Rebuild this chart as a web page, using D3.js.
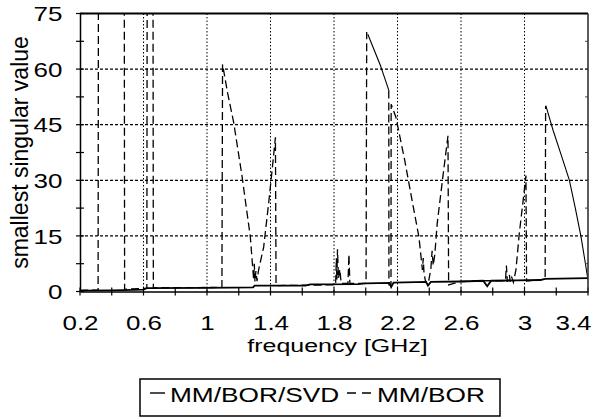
<!DOCTYPE html>
<html>
<head>
<meta charset="utf-8">
<script src="https://cdn.jsdelivr.net/npm/d3@7"></script>
<style>body{margin:0;background:#fff}</style>
</head>
<body>
<svg id="chart" width="601" height="419"></svg>
<script>
//// data
var xTicks = [0.2, 0.6, 1, 1.4, 1.8, 2.2, 2.6, 3, 3.4];
var yTicks = [0, 15, 30, 45, 60, 75];
var seriesNames = ["MM/BOR/SVD", "MM/BOR"];

// MM/BOR/SVD, lower curve
var mmBorSvd = [
  [0.2,0.2],[0.4,0.3],[0.6,0.5],[0.62,0.9],[1.0,1.0],[1.29,1.1],[1.3,1.6],[1.62,1.6],
  [1.65,1.9],[1.95,2.0],[2.0,2.2],[2.15,2.3],[2.16,1.2],[2.175,2.4],[2.38,2.6],[2.392,1.6],
  [2.41,2.6],[2.6,2.7],[2.74,2.9],[2.765,1.4],[2.79,2.9],[2.95,3.0],[3.1,3.1],[3.13,3.4],[3.4,3.6]
];
// MM/BOR/SVD, upper branches (null = break in line)
var mmBorSvdUpper = [
  [2.013,69.4],[2.05,65.5],[2.093,60.9],[2.12,57.5],[2.146,54.2],
  null,
  [3.135,50.1],[3.18,43.5],[3.23,37],[3.283,30],[3.32,22.5],[3.355,15],[3.38,8.5],[3.4,3.1]
];

// MM/BOR (values above 75 run off the top)
var mmBor = [
  [0.2,0.3],[0.314,0.4],[0.317,120],[0.478,120],[0.481,0.6],
  [0.621,0.9],[0.624,120],[0.659,120],[0.662,1.0],
  [1.094,1.1],[1.098,61.3],[1.13,53.5],[1.168,45.6],[1.22,31.3],[1.273,14.7],[1.294,3.1],
  [1.298,7.5],[1.302,2.6],[1.308,5.5],[1.315,2.8],[1.325,5.8],[1.357,12],[1.388,23.7],
  [1.41,32.7],[1.431,41.6],[1.435,1.6],
  [1.81,1.8],[1.815,9],[1.818,3],[1.822,11.4],[1.828,3.5],[1.837,6],[1.845,2.2],[1.888,2.2],[1.894,10],[1.9,2.2],
  [2.002,2.2],[2.006,70],
  null,
  [2.145,54.2],[2.146,1.8],[2.159,1.8],[2.16,50.5],
  [2.19,47],[2.245,35.5],[2.29,25],[2.335,14.7],[2.357,5.8],[2.362,9],[2.367,5],[2.375,3],
  [2.385,2.0],[2.395,2.5],[2.41,6],[2.418,11],[2.425,7],[2.435,10],[2.45,18.3],[2.483,30],
  [2.518,42],[2.522,1.8],
  [2.6,2.7],[2.74,2.9],
  [2.88,2.9],[2.886,7],[2.892,2.6],[2.905,4.5],[2.91,2.6],[2.92,3.8],[2.93,2.5],[2.946,5.8],
  [2.967,15.6],[2.99,24],[3.009,31.3],[3.013,2.8],
  [3.13,3.3],[3.133,50.1]
];

//// layout
var svg = d3.select("svg#chart");
var font = "'Liberation Sans', Arial, sans-serif";
var plotL = 80, plotR = 588, plotT = 13.5, plotB = 291.5;

var x = d3.scaleLinear().domain([0.2, 3.4]).range([plotL, plotR]);
var y = d3.scaleLinear().domain([0, 75]).range([plotB, plotT]);

// stretched text, like the scanned original
function label(g, str, px, py, size, sx, anchor) {
  return g.append("text")
    .attr("transform", "translate(" + px + "," + py + ") scale(" + sx + ",1)")
    .attr("text-anchor", anchor || "start")
    .attr("font-family", font)
    .attr("font-size", size)
    .attr("fill", "#000")
    .text(str);
}

// grid
svg.append("g").selectAll("line")
  .data(xTicks.slice(1, -1))
  .enter().append("line")
  .attr("x1", function(d) { return x(d); })
  .attr("x2", function(d) { return x(d); })
  .attr("y1", y(0)).attr("y2", y(75))
  .attr("stroke", "#000").attr("stroke-width", 1)
  .attr("stroke-dasharray", "1.5,2");

svg.append("g").selectAll("line")
  .data(yTicks.slice(1, -1))
  .enter().append("line")
  .attr("x1", plotL).attr("x2", plotR)
  .attr("y1", function(d) { return y(d); })
  .attr("y2", function(d) { return y(d); })
  .attr("stroke", "#000").attr("stroke-width", 1.2)
  .attr("stroke-dasharray", "3,2");

// series
svg.append("clipPath").attr("id", "plot")
  .append("rect").attr("x", plotL).attr("y", plotT)
  .attr("width", plotR - plotL).attr("height", plotB - plotT);

var line = d3.line()
  .defined(function(d) { return d != null; })
  .x(function(d) { return x(d[0]); })
  .y(function(d) { return y(d[1]); });

svg.append("path")
  .datum(mmBor)
  .attr("clip-path", "url(#plot)")
  .attr("d", line)
  .attr("fill", "none")
  .attr("stroke", "#000")
  .attr("stroke-width", 1.3)
  .attr("stroke-dasharray", "8,4");

svg.append("path")
  .datum(mmBorSvd)
  .attr("clip-path", "url(#plot)")
  .attr("d", line)
  .attr("fill", "none")
  .attr("stroke", "#000")
  .attr("stroke-width", 1.8);

svg.append("path")
  .datum(mmBorSvdUpper)
  .attr("clip-path", "url(#plot)")
  .attr("d", line)
  .attr("fill", "none")
  .attr("stroke", "#000")
  .attr("stroke-width", 1.1);

// axes
var xAxis = d3.axisBottom(x).tickValues(xTicks).tickSize(0).tickFormat(d3.format("~g"));
var gx = svg.append("g").attr("transform", "translate(0," + y(0) + ")").call(xAxis);
gx.select(".domain").attr("stroke-width", 1.5);
gx.selectAll("text")
  .attr("font-family", font).attr("font-size", 20).attr("fill", "#000")
  .attr("y", 38.5).attr("dy", null)
  .attr("transform", "scale(1.3,1)");
// last label pulled in so it stays inside the page
gx.selectAll("text")
  .filter(function(d, i, n) { return i === n.length - 1; })
  .attr("text-anchor", "end")
  .attr("x", 3 / 1.3);

var yAxis = d3.axisLeft(y).tickValues(yTicks).tickSize(0);
var gy = svg.append("g").attr("transform", "translate(" + plotL + ",0)").call(yAxis);
gy.select(".domain").attr("stroke-width", 1.5);
gy.selectAll("text")
  .attr("font-family", font).attr("font-size", 20).attr("fill", "#000")
  .attr("x", -17.5 / 1.3).attr("dy", "0.36em")
  .attr("transform", "scale(1.3,1)");

// tick marks crossing the axes
svg.append("g").selectAll("line")
  .data(d3.range(0.2, 3.401, 0.2))
  .enter().append("line")
  .attr("x1", function(d) { return x(d); })
  .attr("x2", function(d) { return x(d); })
  .attr("y1", y(0) - 4).attr("y2", y(0) + 4)
  .attr("stroke", "#000").attr("stroke-width", 1.2);

svg.append("g").selectAll("line")
  .data(d3.range(0, 75.1, 7.5))
  .enter().append("line")
  .attr("x1", plotL - 4).attr("x2", plotL + 4)
  .attr("y1", function(d) { return y(d); })
  .attr("y2", function(d) { return y(d); })
  .attr("stroke", "#000").attr("stroke-width", 1.2);

svg.append("g").selectAll("line")
  .data(d3.range(7.5, 75, 7.5))
  .enter().append("line")
  .attr("x1", plotR - 3).attr("x2", plotR)
  .attr("y1", function(d) { return y(d); })
  .attr("y2", function(d) { return y(d); })
  .attr("stroke", "#444").attr("stroke-width", 1);

// frame top / right
svg.append("line")
  .attr("x1", plotL).attr("x2", plotR).attr("y1", y(75)).attr("y2", y(75))
  .attr("stroke", "#000").attr("stroke-width", 2);
svg.append("line")
  .attr("x1", plotR).attr("x2", plotR).attr("y1", y(75)).attr("y2", y(0))
  .attr("stroke", "#333").attr("stroke-width", 1.6);

// axis titles
label(svg, "frequency [GHz]", 337.5, 351.5, 18.5, 1.35, "middle");
svg.append("text")
  .attr("transform", "translate(28," + ((plotT + plotB) / 2) + ") rotate(-90)")
  .attr("text-anchor", "middle")
  .attr("font-family", font).attr("font-size", 23).attr("fill", "#000")
  .text("smallest singular value");

// legend
var lg = svg.append("g");
lg.append("rect")
  .attr("x", 140).attr("y", 379).attr("width", 360).attr("height", 37)
  .attr("fill", "none").attr("stroke", "#000").attr("stroke-width", 1.5);
lg.append("line")
  .attr("x1", 150).attr("x2", 165).attr("y1", 393).attr("y2", 393)
  .attr("stroke", "#000").attr("stroke-width", 1.4);
label(lg, seriesNames[0], 170, 401.5, 21, 1.25);
lg.append("line")
  .attr("x1", 347).attr("x2", 371).attr("y1", 393).attr("y2", 393)
  .attr("stroke", "#000").attr("stroke-width", 1.3)
  .attr("stroke-dasharray", "9,6");
label(lg, seriesNames[1], 377, 401.5, 21, 1.25);
</script>
</body>
</html>
